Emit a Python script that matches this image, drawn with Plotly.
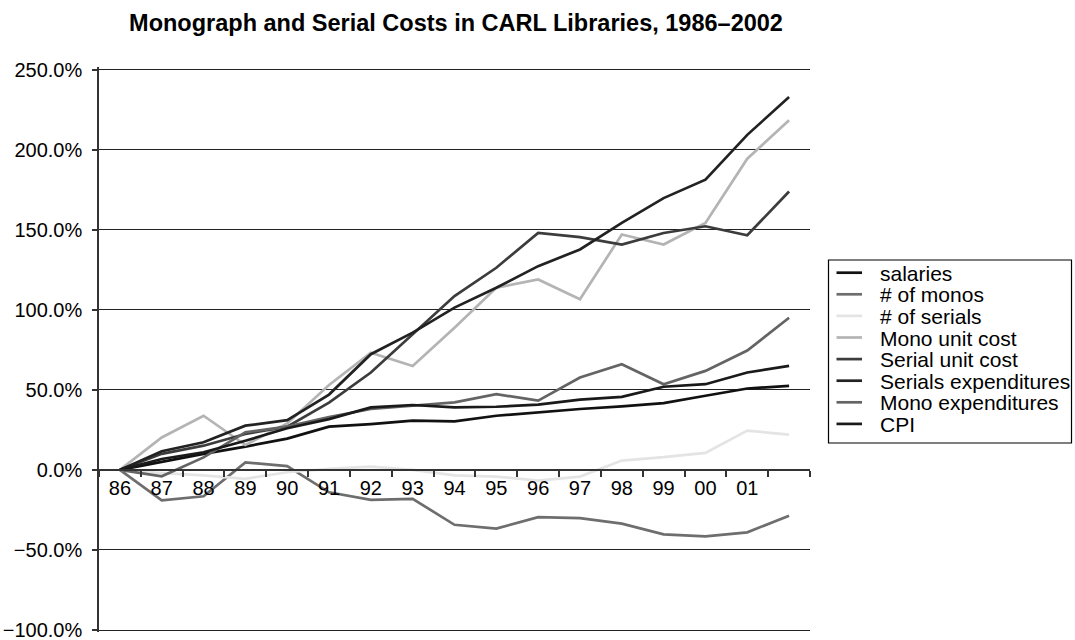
import plotly.graph_objects as go

years = ["86", "87", "88", "89", "90", "91", "92", "93", "94", "95", "96", "97", "98", "99", "00", "01", "02"]
tick_labels = ["86", "87", "88", "89", "90", "91", "92", "93", "94", "95", "96", "97", "98", "99", "00", "01", ""]

salaries = [0, 5, 10, 14.5, 19.5, 27, 28.6, 30.7, 30.3, 33.8, 35.9, 38, 39.6, 41.7, 46.3, 50.8, 52.5]
num_monos = [0, -19, -16.5, 4.7, 2.3, -14, -18.7, -18.1, -34.3, -36.7, -29.5, -30.1, -33.6, -40.3, -41.5, -39, -28.6]
num_serials = [0, -2, -3.5, -5.6, -1.5, 0.6, 2, 0, -3.5, -4.2, -6.7, -4.2, 5.8, 7.9, 10.6, 24.5, 22]
mono_unit_cost = [0, 20.2, 33.8, 15.5, 29, 53, 73.2, 64.9, 88.8, 113.7, 118.9, 106.5, 147, 140.7, 154.2, 194.3, 218.3]
serial_unit_cost = [0, 10, 15.1, 22.4, 27, 42, 60.8, 84.7, 108.5, 126.2, 148, 145.3, 140.7, 147.9, 152.1, 146.5, 173.8]
serials_exp = [0, 11.6, 17.2, 27.6, 31, 47, 72.2, 85.7, 101.3, 113.7, 127.2, 137.6, 154.2, 169.7, 181.2, 209.2, 232.8]
mono_exp = [0, -4, 7.8, 23.4, 27, 33, 38, 40, 42.1, 47.3, 43.2, 57.7, 66, 53.5, 61.8, 74.5, 95]
cpi = [0, 6.8, 11, 18.2, 26, 31.7, 39, 40.5, 39, 39.4, 40.7, 43.8, 45.6, 51.9, 53.5, 60.8, 64.9]

names = ["salaries", "# of monos", "# of serials", "Mono unit cost", "Serial unit cost",
         "Serials expenditures", "Mono expenditures", "CPI"]
values = [salaries, num_monos, num_serials, mono_unit_cost, serial_unit_cost,
          serials_exp, mono_exp, cpi]
colors = ["#111111", "#6e6e6e", "#e4e4e4", "#b4b4b4", "#3c3c3c", "#222222", "#646464", "#1a1a1a"]

W, H = 1075, 640
L, R, T, B = 99, 265, 67, 8
PW, PH = W - L - R, H - T - B
px_per_unit = 560.5 / 350.0
y_top = 250 + (69.5 - T) / px_per_unit
y_bot = y_top - PH / px_per_unit
zero_frac = (0 - y_bot) / (y_top - y_bot)

def paper_x(px):
    return (px - L) / PW

def paper_y(py):
    return (H - B - py) / PH

x_idx = list(range(len(years)))
font_family = "Arial, 'Liberation Sans', sans-serif"

fig = go.Figure()
for name, vals, color in zip(names, values, colors):
    fig.add_trace(go.Scatter(
        x=x_idx, y=vals, name=name, mode="lines",
        line=dict(color=color, width=2.7),
        customdata=years,
        hovertemplate="%{customdata}: %{y:.1f}%<extra>" + name + "</extra>",
        showlegend=False,
    ))

# Custom legend (box, swatches, labels) to match the tight row spacing
shapes = [dict(type="rect", xref="paper", yref="paper",
               x0=paper_x(828.5), x1=paper_x(1071.5), y0=paper_y(443), y1=paper_y(260),
               line=dict(color="black", width=1.2), fillcolor="white", layer="below")]
annotations = []
row0, row_step = 272.7, 21.6
for i, (name, color) in enumerate(zip(names, colors)):
    cy = row0 + i * row_step
    shapes.append(dict(type="line", xref="paper", yref="paper",
                       x0=paper_x(836.5), x1=paper_x(862), y0=paper_y(cy), y1=paper_y(cy),
                       line=dict(color=color, width=2.7)))
    annotations.append(dict(xref="paper", yref="paper", x=paper_x(878.5), y=paper_y(cy + 0.5),
                            xanchor="left", yanchor="middle", showarrow=False, text=name,
                            font=dict(size=21, family=font_family, color="black")))

fig.update_layout(
    width=W, height=H,
    paper_bgcolor="white", plot_bgcolor="white",
    margin=dict(l=L, r=R, t=T, b=B, autoexpand=False),
    font=dict(family=font_family, size=20, color="black"),
    title=dict(
        text="<b>Monograph and Serial Costs in CARL Libraries, 1986\u20132002</b>",
        x=456 / W, xanchor="center", y=1 - 22.5 / H, yanchor="middle",
        font=dict(size=23.5, family=font_family, color="black"),
    ),
    showlegend=False,
    shapes=shapes,
    annotations=annotations,
    xaxis=dict(
        range=[-0.5, len(years) - 0.5],
        tickmode="array", tickvals=x_idx, ticktext=tick_labels,
        ticks="", showgrid=False, zeroline=False,
        showline=True, linecolor="#333333", linewidth=1.5,
        anchor="free", position=zero_frac, automargin=False,
        tickfont=dict(size=20),
        minor=dict(
            tickmode="array",
            tickvals=[i - 0.5 for i in range(len(years) + 1)],
            ticks="outside", ticklen=6, tickcolor="#333333", tickwidth=1.5,
            showgrid=False,
        ),
    ),
    yaxis=dict(
        range=[y_bot, y_top], tickmode="linear", tick0=-100, dtick=50,
        tickformat=".1f", ticksuffix="%",
        showgrid=True, gridcolor="#222222", gridwidth=1.2,
        zeroline=False, automargin=False,
        showline=True, linecolor="#333333", linewidth=1.5,
        ticks="outside", ticklen=5, tickcolor="#333333", tickwidth=1.5,
        ticklabelstandoff=6, ticklabeloverflow="allow",
        tickfont=dict(size=20),
    ),
)

fig.write_html("out.html")
